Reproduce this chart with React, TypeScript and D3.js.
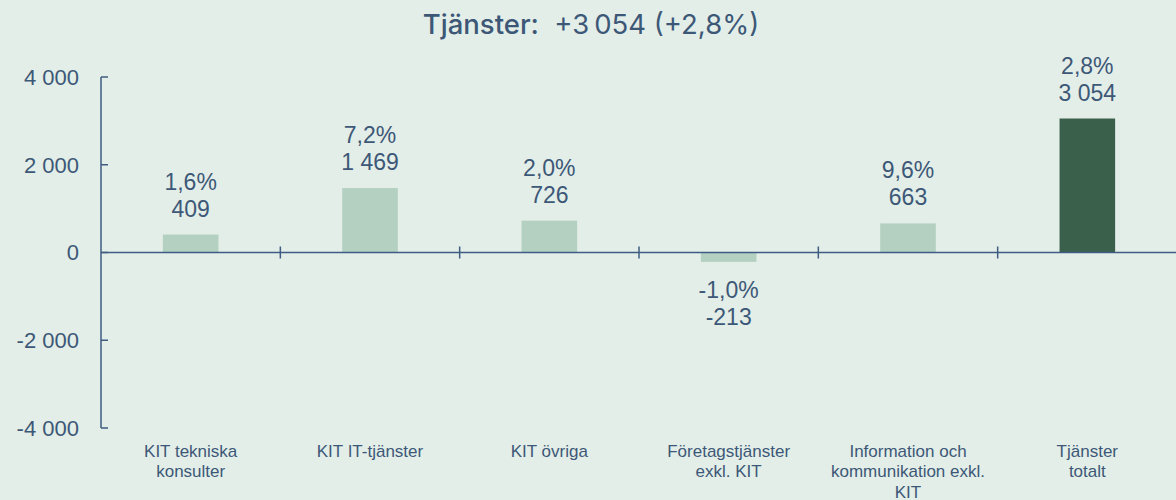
import React from 'react';
import * as d3 from 'd3';

const categories = [
  ['KIT tekniska', 'konsulter'],
  ['KIT IT-tjänster'],
  ['KIT övriga'],
  ['Företagstjänster', 'exkl. KIT'],
  ['Information och', 'kommunikation exkl.', 'KIT'],
  ['Tjänster', 'totalt'],
];
const values = [409, 1469, 726, -213, 663, 3054];
const percents = ['1,6%', '7,2%', '2,0%', '-1,0%', '9,6%', '2,8%'];
const yTicks = [-4000, -2000, 0, 2000, 4000];

const W = 1176;
const H = 500;
const BG = '#e3eee8';
const TEXT = '#3d5877';
const AXIS = '#3f5d82';
const LIGHT = '#b3d0c1';
const DARK = '#3a5f4a';
const FONT = 'Liberation Sans, Arial, sans-serif';

const fmt = (v: number) => {
  const s = Math.abs(v).toString().replace(/\B(?=(\d{3})+(?!\d))/g, ' ');
  return (v < 0 ? '-' : '') + s;
};

const App: React.FC = () => {
  const y = d3.scaleLinear().domain([-4000, 4000]).range([428, 77]);
  const x = d3.scaleBand<number>()
    .domain(d3.range(categories.length))
    .range([101, 1177])
    .paddingInner(0.69)
    .paddingOuter(0.345);
  const step = x.step();
  const left = 101;

  return (
    <svg width={W} height={H} style={{ position: 'absolute', left: 0, top: 0, background: BG }}>
      <rect width={W} height={H} fill={BG} />
      <text x={591} y={34} textAnchor="middle" fill={TEXT}
        style={{ fontFamily: 'Inter, sans-serif', fontSize: 27.5 }}>
        <tspan fontWeight={500}>Tjänster:</tspan>
        <tspan fontWeight={400}>{'\u00a0 +3\u2009054 (+2,8%)'}</tspan>
      </text>

      {/* y axis */}
      <line x1={left} x2={left} y1={y(4000)} y2={y(-4000)} stroke={AXIS} strokeWidth={1.5} />
      {yTicks.map(t => (
        <g key={t}>
          <line x1={left} x2={left + 7} y1={y(t)} y2={y(t)} stroke={AXIS} strokeWidth={1.5} />
          <text x={79} y={y(t)} dy="0.36em" textAnchor="end" fill={TEXT}
            style={{ fontFamily: FONT, fontSize: 22 }}>
            {fmt(t)}
          </text>
        </g>
      ))}

      {/* bars */}
      {values.map((v, i) => (
        <rect key={i} x={x(i)} width={x.bandwidth()}
          y={y(Math.max(0, v))} height={Math.abs(y(v) - y(0))}
          fill={i === values.length - 1 ? DARK : LIGHT} />
      ))}

      {/* zero line + category ticks */}
      <line x1={left} x2={W} y1={y(0)} y2={y(0)} stroke={AXIS} strokeWidth={1.5} />
      {d3.range(1, categories.length).map(i => (
        <line key={i} x1={left + step * i} x2={left + step * i} y1={y(0) - 6} y2={y(0) + 6}
          stroke={AXIS} strokeWidth={1.5} />
      ))}

      {/* value labels */}
      {values.map((v, i) => {
        const cx = (x(i) as number) + x.bandwidth() / 2;
        const base = v >= 0 ? y(v) - 18 - 27 : y(v) + 36;
        return (
          <text key={i} x={cx} textAnchor="middle" fill={TEXT}
            style={{ fontFamily: FONT, fontSize: 23 }}>
            <tspan x={cx} y={base}>{percents[i]}</tspan>
            <tspan x={cx} y={base + 27}>{fmt(v)}</tspan>
          </text>
        );
      })}

      {/* category labels */}
      {categories.map((lines, i) => {
        const cx = (x(i) as number) + x.bandwidth() / 2;
        return (
          <text key={i} textAnchor="middle" fill={TEXT}
            style={{ fontFamily: FONT, fontSize: 17 }}>
            {lines.map((l, j) => (
              <tspan key={j} x={cx} y={456.5 + j * 20.5}>{l}</tspan>
            ))}
          </text>
        );
      })}
    </svg>
  );
};

export default App;
